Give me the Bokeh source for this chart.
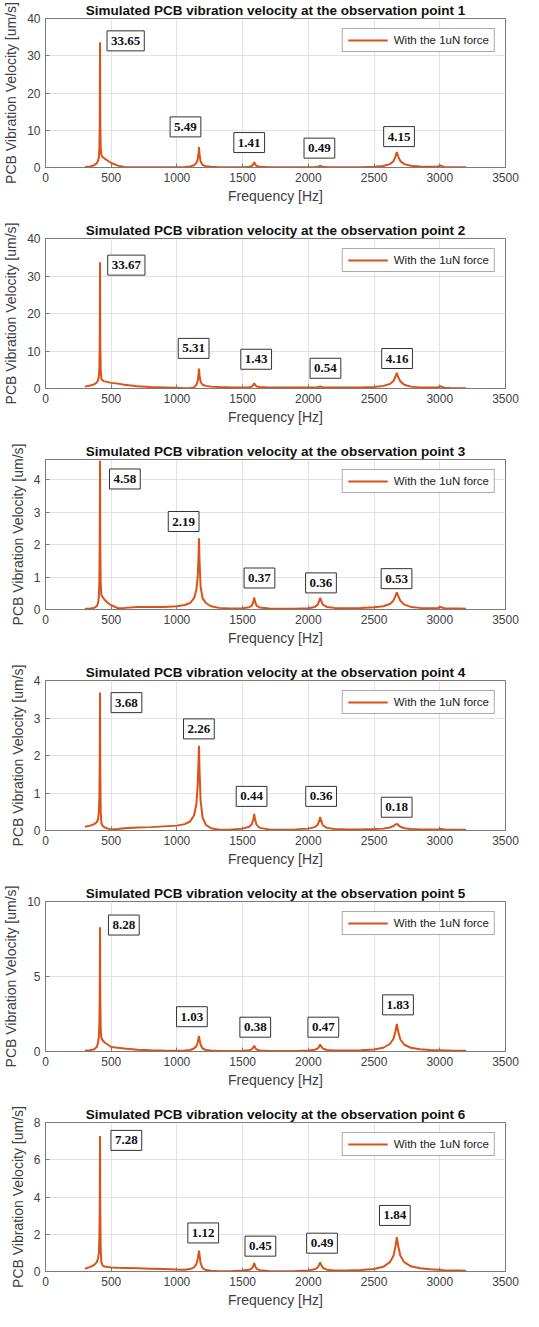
from bokeh.plotting import figure
from bokeh.layouts import column
from bokeh.models import Range1d, FixedTicker, Label
from bokeh.embed import file_html
from bokeh.resources import INLINE

# ---------------- data ----------------
freq_hz = [
    300, 340, 370, 390, 400, 406, 410, 413, 415, 417,
    420, 425, 435, 450, 475, 500, 550, 600, 700, 800,
    900, 1000, 1060, 1100, 1130, 1148, 1158, 1164, 1168, 1172,
    1180, 1195, 1220, 1260, 1320, 1400, 1500, 1550, 1570, 1582,
    1588, 1594, 1606, 1630, 1700, 1800, 1900, 2000, 2050, 2072,
    2084, 2090, 2096, 2110, 2140, 2200, 2300, 2400, 2500, 2570,
    2620, 2648, 2663, 2673, 2683, 2700, 2730, 2780, 2850, 2930,
    2985, 3000, 3008, 3016, 3035, 3080, 3150, 3200,
]

vel_point1 = [
    0.15, 0.3, 0.6, 1.1, 1.8, 2.8, 5.0, 12.0, 33.65, 12.0,
    5.5, 3.3, 2.8, 2.4, 1.8, 1.2, 0.5, 0.15, 0.05, 0.05,
    0.06, 0.08, 0.15, 0.3, 0.6, 1.2, 2.2, 3.8, 5.49, 3.6,
    1.6, 0.7, 0.35, 0.18, 0.1, 0.08, 0.1, 0.2, 0.4, 0.9,
    1.41, 0.9, 0.4, 0.2, 0.1, 0.06, 0.06, 0.08, 0.12, 0.2,
    0.35, 0.49, 0.35, 0.2, 0.12, 0.08, 0.08, 0.1, 0.2, 0.4,
    0.9, 1.7, 3.0, 4.15, 3.0, 1.7, 0.9, 0.45, 0.25, 0.2,
    0.3, 0.45, 0.55, 0.35, 0.15, 0.08, 0.05, 0.05,
]
vel_point2 = [
    0.5, 0.8, 1.1, 1.6, 2.2, 3.2, 5.5, 13.0, 33.67, 12.0,
    5.0, 2.6, 2.1, 1.9, 1.7, 1.5, 1.3, 1.0, 0.6, 0.4,
    0.3, 0.2, 0.08, 0.05, 0.3, 1.0, 2.0, 3.6, 5.31, 3.5,
    1.8, 1.0, 0.7, 0.5, 0.4, 0.35, 0.3, 0.35, 0.5, 1.0,
    1.43, 1.0, 0.55, 0.4, 0.3, 0.28, 0.25, 0.25, 0.28, 0.35,
    0.45, 0.54, 0.45, 0.3, 0.25, 0.25, 0.28, 0.3, 0.4, 0.7,
    1.2, 2.0, 3.2, 4.16, 3.1, 1.9, 1.0, 0.5, 0.3, 0.25,
    0.35, 0.5, 0.6, 0.4, 0.2, 0.12, 0.1, 0.1,
]
vel_point3 = [
    0.02, 0.03, 0.05, 0.1, 0.2, 0.4, 0.9, 2.2, 4.58, 2.0,
    0.8, 0.45, 0.38, 0.3, 0.2, 0.13, 0.04, 0.05, 0.08, 0.08,
    0.08, 0.1, 0.14, 0.2, 0.35, 0.6, 1.0, 1.6, 2.19, 1.5,
    0.7, 0.35, 0.2, 0.1, 0.05, 0.03, 0.04, 0.07, 0.12, 0.25,
    0.37, 0.25, 0.12, 0.06, 0.03, 0.02, 0.02, 0.04, 0.08, 0.15,
    0.28, 0.36, 0.28, 0.15, 0.08, 0.05, 0.04, 0.05, 0.07, 0.1,
    0.17, 0.28, 0.42, 0.53, 0.42, 0.27, 0.15, 0.08, 0.05, 0.04,
    0.05, 0.07, 0.08, 0.06, 0.04, 0.03, 0.03, 0.02,
]
vel_point4 = [
    0.1, 0.13, 0.17, 0.22, 0.3, 0.5, 0.9, 1.9, 3.68, 1.6,
    0.5, 0.2, 0.12, 0.08, 0.05, 0.03, 0.04, 0.06, 0.08, 0.09,
    0.11, 0.13, 0.17, 0.24, 0.4, 0.7, 1.2, 1.8, 2.26, 1.6,
    0.8, 0.35, 0.15, 0.06, 0.02, 0.02, 0.05, 0.1, 0.17, 0.3,
    0.44, 0.3, 0.15, 0.07, 0.03, 0.02, 0.03, 0.05, 0.09, 0.16,
    0.27, 0.36, 0.27, 0.14, 0.07, 0.04, 0.03, 0.03, 0.04, 0.05,
    0.08, 0.12, 0.16, 0.18, 0.15, 0.1, 0.06, 0.04, 0.03, 0.03,
    0.03, 0.04, 0.04, 0.04, 0.03, 0.02, 0.02, 0.02,
]
vel_point5 = [
    0.05, 0.08, 0.15, 0.3, 0.6, 1.0, 1.9, 4.0, 8.28, 3.5,
    1.5, 0.9, 0.75, 0.6, 0.45, 0.3, 0.25, 0.2, 0.12, 0.08,
    0.06, 0.05, 0.07, 0.1, 0.2, 0.35, 0.6, 0.85, 1.03, 0.8,
    0.45, 0.2, 0.1, 0.06, 0.04, 0.03, 0.05, 0.08, 0.14, 0.27,
    0.38, 0.27, 0.13, 0.07, 0.04, 0.03, 0.04, 0.06, 0.12, 0.2,
    0.36, 0.47, 0.36, 0.2, 0.1, 0.06, 0.06, 0.08, 0.13, 0.25,
    0.5, 0.85, 1.35, 1.83, 1.35, 0.8, 0.45, 0.25, 0.15, 0.1,
    0.08, 0.08, 0.08, 0.07, 0.07, 0.06, 0.05, 0.05,
]
vel_point6 = [
    0.15, 0.25, 0.35, 0.5, 0.7, 1.0, 1.8, 3.6, 7.28, 3.2,
    1.2, 0.5, 0.32, 0.27, 0.24, 0.22, 0.2, 0.19, 0.17, 0.15,
    0.13, 0.11, 0.1, 0.13, 0.22, 0.4, 0.65, 0.95, 1.12, 0.9,
    0.45, 0.18, 0.08, 0.04, 0.02, 0.02, 0.05, 0.09, 0.16, 0.31,
    0.45, 0.31, 0.14, 0.07, 0.03, 0.02, 0.03, 0.06, 0.12, 0.22,
    0.38, 0.49, 0.38, 0.2, 0.1, 0.06, 0.06, 0.08, 0.13, 0.25,
    0.5, 0.85, 1.35, 1.84, 1.4, 0.85, 0.5, 0.28, 0.17, 0.12,
    0.1, 0.09, 0.09, 0.08, 0.07, 0.06, 0.05, 0.04,
]

panel_titles = [
    "Simulated PCB vibration velocity at the observation point 1",
    "Simulated PCB vibration velocity at the observation point 2",
    "Simulated PCB vibration velocity at the observation point 3",
    "Simulated PCB vibration velocity at the observation point 4",
    "Simulated PCB vibration velocity at the observation point 5",
    "Simulated PCB vibration velocity at the observation point 6",
]
x_ticks = [0, 500, 1000, 1500, 2000, 2500, 3000, 3500]
y_max = [40, 40, 4.62, 4, 10, 8]
y_ticks = [
    [0, 10, 20, 30, 40],
    [0, 10, 20, 30, 40],
    [0, 1, 2, 3, 4],
    [0, 1, 2, 3, 4],
    [0, 5, 10],
    [0, 2, 4, 6, 8],
]

peak_text_1 = ["33.65", "5.49", "1.41", "0.49", "4.15"]
peak_text_2 = ["33.67", "5.31", "1.43", "0.54", "4.16"]
peak_text_3 = ["4.58", "2.19", "0.37", "0.36", "0.53"]
peak_text_4 = ["3.68", "2.26", "0.44", "0.36", "0.18"]
peak_text_5 = ["8.28", "1.03", "0.38", "0.47", "1.83"]
peak_text_6 = ["7.28", "1.12", "0.45", "0.49", "1.84"]

note_x_1 = [610, 1065, 1550, 2084, 2690]
note_y_1 = [34.0, 10.9, 6.7, 5.2, 8.3]
note_x_2 = [615, 1127, 1603, 2130, 2675]
note_y_2 = [32.9, 10.7, 7.8, 5.4, 8.0]
note_x_3 = [604, 1051, 1628, 2096, 2671]
note_y_3 = [4.02, 2.71, 0.97, 0.82, 0.95]
note_x_4 = [616, 1167, 1568, 2097, 2672]
note_y_4 = [3.41, 2.71, 0.91, 0.91, 0.62]
note_x_5 = [596, 1114, 1596, 2114, 2682]
note_y_5 = [8.43, 2.32, 1.62, 1.62, 3.11]
note_x_6 = [615, 1200, 1635, 2104, 2658]
note_y_6 = [7.04, 2.07, 1.36, 1.52, 3.01]

series_label = "With the 1uN force"
x_title = "Frequency [Hz]"
y_title = "PCB Vibration Velocity [um/s]"

# ---------------- assembly ----------------
velocities = [vel_point1, vel_point2, vel_point3, vel_point4, vel_point5, vel_point6]
peak_texts = [peak_text_1, peak_text_2, peak_text_3, peak_text_4, peak_text_5, peak_text_6]
note_xs = [note_x_1, note_x_2, note_x_3, note_x_4, note_x_5, note_x_6]
note_ys = [note_y_1, note_y_2, note_y_3, note_y_4, note_y_5, note_y_6]

LINE_COLOR = "#D95319"
AXIS_COLOR = "#7a7a7a"
TEXT_COLOR = "#404040"
GRID_COLOR = "#e2e2e2"
SANS = "Liberation Sans"
SERIF = "Liberation Serif"

FRAME_W, FRAME_H = 461, 150
LEFT, RIGHT = 44, 18
tops = [17, 31, 31, 31, 31, 31]
bottoms = [40, 40, 40, 40, 40, 38]

figs = []
for i in range(6):
    p = figure(
        width=LEFT + FRAME_W + RIGHT,
        height=tops[i] + FRAME_H + bottoms[i],
        x_range=Range1d(0, 3500),
        y_range=Range1d(0, y_max[i]),
        output_backend="svg",
        toolbar_location=None,
        min_border_left=LEFT,
        min_border_right=RIGHT,
        min_border_top=tops[i],
        min_border_bottom=bottoms[i],
        background_fill_color="white",
        border_fill_color="white",
        outline_line_color=AXIS_COLOR,
        outline_line_width=1,
    )
    p.line(freq_hz, velocities[i], line_color=LINE_COLOR, line_width=2,
           legend_label=series_label)

    # title
    p.title.text = panel_titles[i]
    p.title.align = "center"
    p.title.text_font = SANS
    p.title.text_font_style = "bold"
    p.title.text_font_size = "13.5px"
    p.title.text_color = "#111111"
    p.title.standoff = 1

    # axes
    p.xaxis.ticker = FixedTicker(ticks=x_ticks)
    p.yaxis.ticker = FixedTicker(ticks=y_ticks[i])
    for ax in (p.xaxis[0], p.yaxis[0]):
        ax.axis_line_color = AXIS_COLOR
        ax.major_tick_line_color = AXIS_COLOR
        ax.major_tick_in = 4
        ax.major_tick_out = 0
        ax.minor_tick_line_color = None
        ax.major_label_text_font = SANS
        ax.major_label_text_font_size = "12px"
        ax.major_label_text_color = TEXT_COLOR
        ax.axis_label_text_font = SANS
        ax.axis_label_text_font_size = "14px"
        ax.axis_label_text_font_style = "normal"
        ax.axis_label_text_color = TEXT_COLOR
    p.xaxis.axis_label = x_title
    p.xaxis.major_label_standoff = 5
    p.xaxis.axis_label_standoff = 3
    p.yaxis.axis_label = y_title
    p.yaxis.major_label_standoff = 5
    p.yaxis.axis_label_standoff = 5

    # grid
    p.xgrid.ticker = FixedTicker(ticks=x_ticks)
    p.ygrid.ticker = FixedTicker(ticks=y_ticks[i])
    p.grid.grid_line_color = GRID_COLOR
    p.grid.grid_line_width = 1

    # peak annotations
    for t, nx, ny in zip(peak_texts[i], note_xs[i], note_ys[i]):
        p.add_layout(Label(x=nx, y=ny, text=t, text_align="center", text_baseline="middle",
                           text_font=SERIF, text_font_style="bold", text_font_size="13px",
                           text_color="#111111", background_fill_color="white",
                           border_line_color="#333333", border_line_width=1,
                           padding=(4, 6)))

    # legend
    lg = p.legend[0]
    lg.location = "top_right"
    lg.margin = 10
    lg.padding = 5
    lg.spacing = 0
    lg.glyph_width = 40
    lg.glyph_height = 12
    lg.label_height = 12
    lg.label_standoff = 6
    lg.label_text_font = SANS
    lg.label_text_font_size = "11.5px"
    lg.label_text_color = "#222222"
    lg.border_line_color = "#555555"
    lg.border_line_width = 1
    lg.background_fill_alpha = 1.0

    figs.append(p)

layout = column(*figs)
open("out.html", "w").write(file_html(layout, INLINE))
